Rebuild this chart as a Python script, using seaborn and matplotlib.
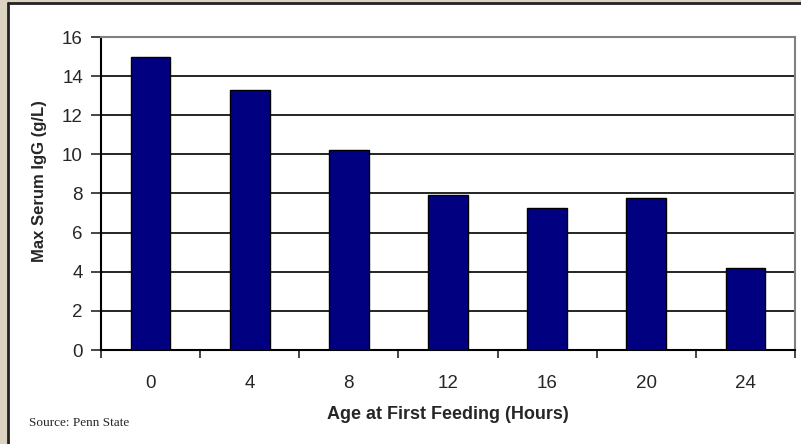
import matplotlib
matplotlib.use('Agg')
import matplotlib.pyplot as plt
import seaborn as sns
import pandas as pd
from matplotlib.patches import Rectangle

# data
ages = ['0', '4', '8', '12', '16', '20', '24']
igg = [15.0, 13.3, 10.2, 7.9, 7.25, 7.75, 4.2]
y_ticks = [0, 2, 4, 6, 8, 10, 12, 14, 16]

df = pd.DataFrame({'age': ages, 'igg': igg})

sns.set_style('white')
plt.rcParams['font.family'] = ['Liberation Sans', 'DejaVu Sans']

fig = plt.figure(figsize=(8.01, 4.44), dpi=100)
fig.patch.set_facecolor('#dcd3c3')

# white slide panel with dark frame on left/top
panel = Rectangle((8 / 801, 0), 1, 1 - 4 / 444, transform=fig.transFigure,
                  facecolor='white', edgecolor='none', zorder=-10)
fig.add_artist(panel)
fig.add_artist(plt.Line2D([8 / 801, 8 / 801], [0, 1 - 3.5 / 444],
                          transform=fig.transFigure, color='#222222', lw=2,
                          zorder=-5))
fig.add_artist(plt.Line2D([8 / 801, 1], [1 - 3.5 / 444, 1 - 3.5 / 444],
                          transform=fig.transFigure, color='#222222', lw=2,
                          zorder=-5))

ax = fig.add_axes([101 / 801, 94 / 444, 694 / 801, 313 / 444])
ax.set_facecolor('white')

sns.barplot(data=df, x='age', y='igg', color='#000080', width=0.4,
            edgecolor='black', linewidth=1, saturation=1, ax=ax, zorder=3)

ax.set_ylim(0, 16)
ax.set_xlim(-0.5, len(ages) - 0.5)
ax.set_yticks(y_ticks)
ax.yaxis.grid(True, color='black', linewidth=1.2, zorder=1)
ax.set_axisbelow(True)

for s in ['left', 'bottom']:
    ax.spines[s].set_color('black')
    ax.spines[s].set_linewidth(1.5)
for s in ['top', 'right']:
    ax.spines[s].set_color('#808080')
    ax.spines[s].set_linewidth(1.5)

ax.tick_params(axis='y', which='major', left=True, length=7, width=1.2,
               labelsize=13.5, pad=6)
ax.tick_params(axis='x', which='major', bottom=False, length=0,
               labelsize=13.5, pad=18)
ax.set_xticks([i - 0.5 for i in range(len(ages) + 1)], minor=True)
ax.tick_params(axis='x', which='minor', bottom=True, length=6, width=1.2)

ax.set_xlabel('Age at First Feeding (Hours)', fontsize=13, fontweight='bold',
              labelpad=10)
ax.set_ylabel('Max Serum IgG (g/L)', fontsize=12, fontweight='bold')
# label sits a little above the axis centre in the original
ax.yaxis.set_label_coords(-0.078, 0.54)

fig.text(29 / 801, 1 - 423 / 444, 'Source: Penn State', fontsize=9.5,
         family=['Liberation Serif', 'DejaVu Serif'], va='center')

fig.savefig('out.png', dpi=100, facecolor=fig.get_facecolor())
